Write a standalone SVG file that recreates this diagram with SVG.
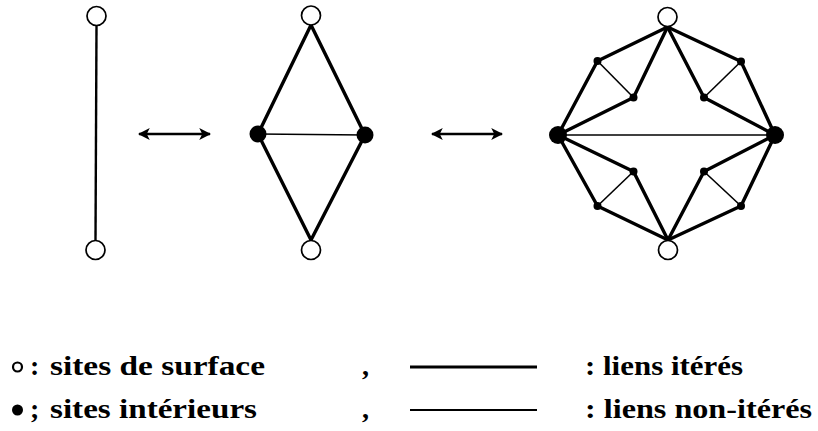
<svg xmlns="http://www.w3.org/2000/svg" width="818" height="431" viewBox="0 0 818 431">
<style>
.thick{stroke:#000;stroke-width:3.4;fill:none;stroke-linecap:round}
.thin{stroke:#000;stroke-width:1.6;fill:none}
.med{stroke:#000;stroke-width:2.4;fill:none}
.surf{fill:#fff;stroke:#000;stroke-width:1.7}
.inner{fill:#000}
.small{fill:#000}
.arr{stroke:#000;stroke-width:2.6;fill:none}
text{font-family:"Liberation Serif","DejaVu Serif",serif;font-weight:bold;font-size:28px;fill:#000}
</style>
<defs>
<marker id="ah" viewBox="0 0 10 10" refX="9" refY="5" markerWidth="4.6" markerHeight="4.6" orient="auto-start-reverse" markerUnits="strokeWidth">
<path d="M0,0 L10,5 L0,10 L2.5,5 z" fill="#000"/>
</marker>
</defs>
<g id="connectors">
<line class="med" x1="96.5" y1="26" x2="95.5" y2="240"/>
<line class="arr" x1="139" y1="134" x2="210" y2="134" marker-start="url(#ah)" marker-end="url(#ah)"/>
<line class="thick" x1="311" y1="25" x2="258" y2="134"/>
<line class="thick" x1="311" y1="25" x2="365" y2="135"/>
<line class="thick" x1="258" y1="134" x2="311" y2="240"/>
<line class="thick" x1="365" y1="135" x2="311" y2="240"/>
<line class="thin" x1="258" y1="134" x2="365" y2="135"/>
<line class="arr" x1="432" y1="134" x2="502" y2="134" marker-start="url(#ah)" marker-end="url(#ah)"/>
<line class="thick" x1="667.5" y1="27" x2="597.5" y2="61"/>
<line class="thick" x1="667.5" y1="27" x2="633.5" y2="97.5"/>
<line class="thick" x1="667.5" y1="27" x2="704" y2="97.5"/>
<line class="thick" x1="667.5" y1="27" x2="741" y2="61.5"/>
<line class="thick" x1="558" y1="135" x2="597.5" y2="61"/>
<line class="thick" x1="558" y1="135" x2="633.5" y2="97.5"/>
<line class="thick" x1="558" y1="135" x2="633.5" y2="171.5"/>
<line class="thick" x1="558" y1="135" x2="597.5" y2="206"/>
<line class="thick" x1="775" y1="135" x2="741" y2="61.5"/>
<line class="thick" x1="775" y1="135" x2="704" y2="97.5"/>
<line class="thick" x1="775" y1="135" x2="704" y2="171.5"/>
<line class="thick" x1="775" y1="135" x2="741" y2="206"/>
<line class="thick" x1="668" y1="240" x2="597.5" y2="206"/>
<line class="thick" x1="668" y1="240" x2="633.5" y2="171.5"/>
<line class="thick" x1="668" y1="240" x2="704" y2="171.5"/>
<line class="thick" x1="668" y1="240" x2="741" y2="206"/>
<line class="thin" x1="597.5" y1="61" x2="633.5" y2="97.5"/>
<line class="thin" x1="741" y1="61.5" x2="704" y2="97.5"/>
<line class="thin" x1="597.5" y1="206" x2="633.5" y2="171.5"/>
<line class="thin" x1="741" y1="206" x2="704" y2="171.5"/>
<line class="thin" x1="558" y1="135" x2="775" y2="135"/>
</g>
<g id="g1-top"><circle class="surf" cx="96.5" cy="16" r="9.5"/></g>
<g id="g1-bottom"><circle class="surf" cx="95.5" cy="250" r="9.5"/></g>
<g id="g2-top"><circle class="surf" cx="311" cy="15.5" r="9.5"/></g>
<g id="g2-bottom"><circle class="surf" cx="311" cy="250" r="9.5"/></g>
<g id="g2-left"><circle class="inner" cx="258" cy="134" r="8.5"/></g>
<g id="g2-right"><circle class="inner" cx="365" cy="135" r="8.5"/></g>
<g id="g3-top"><circle class="surf" cx="667.5" cy="17" r="9.5"/></g>
<g id="g3-bottom"><circle class="surf" cx="668" cy="250" r="9.5"/></g>
<g id="g3-left"><circle class="inner" cx="558" cy="135" r="9"/></g>
<g id="g3-right"><circle class="inner" cx="775" cy="135" r="9"/></g>
<g id="g3-ul-out"><circle class="small" cx="597.5" cy="61" r="4"/></g>
<g id="g3-ul-in"><circle class="small" cx="633.5" cy="97.5" r="4"/></g>
<g id="g3-ur-in"><circle class="small" cx="704" cy="97.5" r="4"/></g>
<g id="g3-ur-out"><circle class="small" cx="741" cy="61.5" r="4"/></g>
<g id="g3-ll-in"><circle class="small" cx="633.5" cy="171.5" r="4"/></g>
<g id="g3-ll-out"><circle class="small" cx="597.5" cy="206" r="4"/></g>
<g id="g3-lr-in"><circle class="small" cx="704" cy="171.5" r="4"/></g>
<g id="g3-lr-out"><circle class="small" cx="741" cy="206" r="4"/></g>
<g id="legend">
<circle cx="17.5" cy="367" r="4.5" fill="#fff" stroke="#000" stroke-width="2.2"/>
<text x="30" y="375">:</text>
<text x="50" y="375" textLength="215" lengthAdjust="spacingAndGlyphs">sites de surface</text>
<text x="362" y="375">,</text>
<line x1="410" y1="367" x2="537" y2="367" stroke="#000" stroke-width="3"/>
<text x="585" y="375" textLength="158" lengthAdjust="spacingAndGlyphs">: liens itérés</text>
<circle cx="17.5" cy="410" r="5.5" fill="#000"/>
<text x="30" y="418">;</text>
<text x="50" y="418" textLength="207" lengthAdjust="spacingAndGlyphs">sites intérieurs</text>
<text x="362" y="418">,</text>
<line x1="410" y1="410" x2="537" y2="410" stroke="#000" stroke-width="2"/>
<text x="585" y="418" textLength="227" lengthAdjust="spacingAndGlyphs">: liens non-itérés</text>
</g>
</svg>
